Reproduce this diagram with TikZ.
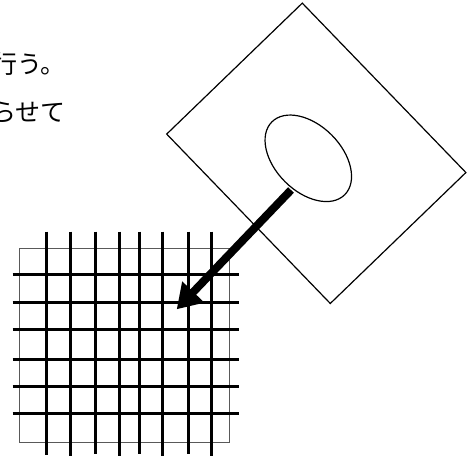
\documentclass[tikz,border=0pt]{standalone}
\usepackage{fontspec}
\newfontfamily\jpfont{Noto Sans CJK JP}
\usetikzlibrary{arrows.meta, shapes.geometric}

\begin{document}
\begin{tikzpicture}[
    x=1pt, y=-1pt,
    sheetbox/.style={draw, rectangle, line width=1.2pt, minimum width=235.5pt, minimum height=188.5pt, inner sep=0pt},
    spotbox/.style={draw, ellipse, line width=1.2pt, minimum width=103pt, minimum height=66pt, inner sep=0pt},
    gridbox/.style={draw=black!65, line width=1.3pt},
    gridline/.style={line width=3pt},
    textline/.style={anchor=base west, inner sep=0pt, font=\jpfont\fontsize{25pt}{25pt}\selectfont},
    arrow/.style={-{Triangle[length=24pt, width=29pt]}, line width=8pt}
]
\useasboundingbox (0,0) rectangle (475,459);
\clip (0,0) rectangle (475,459);

% text (cut at the left edge)
\node[textline] (line1) at (-8,73) {行う。};
\node[textline] (line2) at (-9,121) {らせて};

% tilted sheet with the spot
\node[sheetbox, rotate=-46] (sheet) at (316.3,153.3) {};
\node[spotbox, rotate=-45] (spot) at (308.3,158.3) {};

% grid
\draw[gridbox] (19.3,248.3) rectangle (229.3,442.7);

\draw[gridline] (46.7,231.7) -- (46.7,455);
\draw[gridline] (70,231.7) -- (70,456);
\draw[gridline] (95.7,231.7) -- (95.7,454);
\draw[gridline] (119.3,231.7) -- (119.3,456);
\draw[gridline] (139.3,231.7) -- (139.3,454);
\draw[gridline] (162.7,231.7) -- (162.7,456);
\draw[gridline] (188.3,231.7) -- (188.3,454);
\draw[gridline] (211,231.7) -- (211,456);

\draw[gridline] (12.5,274) -- (238.5,274);
\draw[gridline] (12.5,302.3) -- (238.5,302.3);
\draw[gridline] (12.5,329.3) -- (238.5,329.3);
\draw[gridline] (12.5,359) -- (238.5,359);
\draw[gridline] (12.5,386) -- (238.5,386);
\draw[gridline] (12.5,413.3) -- (238.5,413.3);

% projection arrow
\coordinate (start) at (291,190);
\coordinate (target) at (176.7,309.3);
\draw[arrow] (start) -- (target);

\end{tikzpicture}
\end{document}
